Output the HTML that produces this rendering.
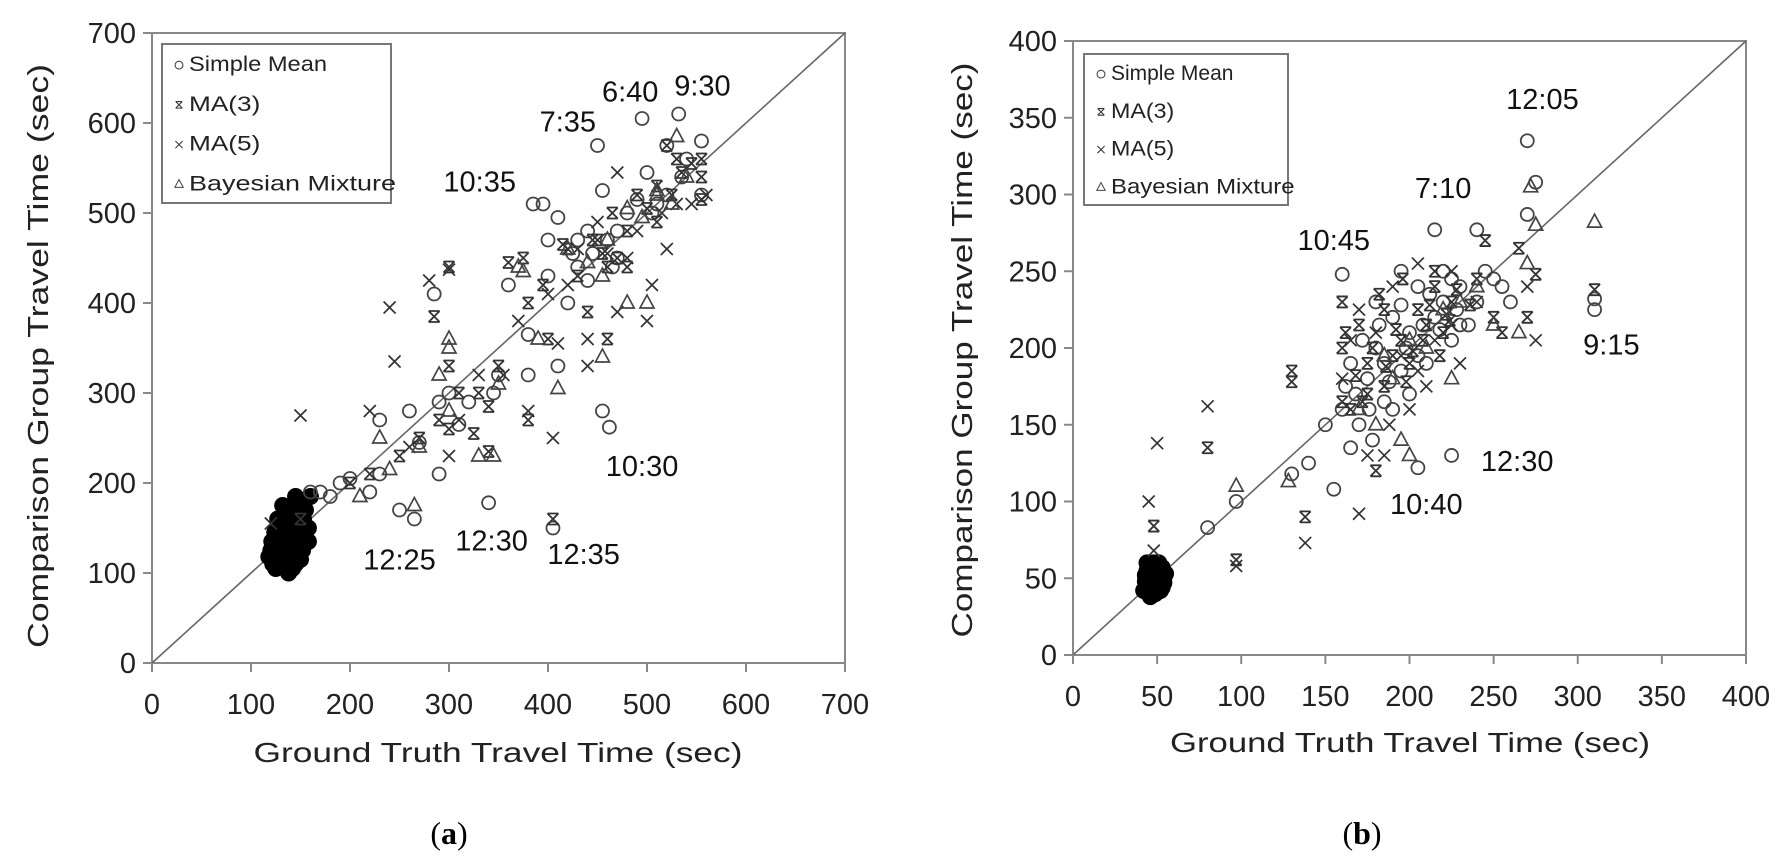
<!DOCTYPE html>
<html><head><meta charset="utf-8">
<style>
html,body{margin:0;padding:0;background:#fff;}
svg{display:block;font-family:"Liberation Sans",sans-serif;}
</style></head>
<body>
<svg id="fig" width="1789" height="867" viewBox="0 0 1789 867" xmlns="http://www.w3.org/2000/svg">
  <g id="chartA"></g>
  <g id="chartB"></g>
  <text x="449" y="844" text-anchor="middle" font-family="Liberation Serif,serif" font-size="32">(<tspan font-weight="bold">a</tspan>)</text>
  <text x="1362" y="844" text-anchor="middle" font-family="Liberation Serif,serif" font-size="32">(<tspan font-weight="bold">b</tspan>)</text>
</svg>
<script>
// ---------- Chart (a) data ----------
const aTicks = [0,100,200,300,400,500,600,700];
const aMean = [[450,575],[495,605],[532,610],[555,580],[385,510],[395,510],[410,495],[400,470],[440,480],[470,450],[455,280],[462,262],[340,178],[405,150],[265,160],[250,170],[290,290],[290,210],[285,410],[220,190],[190,200],[200,205],[170,190],[160,190],[360,420],[400,430],[420,400],[500,545],[520,520],[540,560],[480,500],[350,320],[300,300],[320,290],[230,270],[260,280],[430,440],[460,470],[380,320],[410,330],[510,510],[470,480],[555,520],[380,365],[230,210],[180,185],[455,525],[520,575],[430,470],[445,455],[490,515],[505,500],[465,440],[425,455],[440,425],[535,540],[270,245],[345,300],[310,265]];
const aMA3 = [[285,385],[300,330],[300,260],[340,285],[375,450],[380,270],[400,360],[420,460],[440,390],[450,470],[470,450],[490,520],[510,530],[530,560],[555,540],[360,445],[330,300],[270,250],[250,230],[220,210],[200,200],[460,360],[340,235],[405,160],[300,440],[520,575],[545,555],[555,515],[415,465],[395,420],[460,440],[480,480],[325,255],[290,270],[150,160],[445,470],[465,500],[500,505],[525,520],[535,545],[455,455],[430,430],[480,440],[510,490],[555,560],[380,400],[350,330],[310,300]];
const aMA5 = [[150,275],[240,395],[220,280],[280,425],[300,437],[405,250],[470,390],[500,380],[520,460],[545,510],[560,520],[380,280],[410,355],[430,460],[260,240],[310,270],[355,320],[440,330],[480,450],[505,420],[120,155],[300,230],[245,335],[440,360],[470,545],[530,510],[400,410],[450,490],[490,480],[515,500],[460,455],[420,420],[370,380],[330,320]];
const aBayes = [[530,585],[480,505],[510,520],[455,430],[370,440],[345,230],[330,230],[265,175],[270,240],[300,350],[290,320],[410,305],[480,400],[500,400],[455,340],[390,360],[240,215],[210,185],[420,460],[300,280],[230,250],[540,540],[375,435],[300,360],[510,525],[460,470],[440,445],[495,495],[525,510],[350,310]];
const aCluster = [[118,118],[120,125],[122,110],[125,130],[125,105],[128,140],[128,115],[130,120],[130,150],[132,108],[133,135],[135,125],[135,160],[137,115],[138,145],[140,130],[140,170],[142,120],[143,155],[145,140],[145,110],[147,165],[148,130],[150,150],[150,180],[152,125],[153,160],[155,140],[155,170],[158,150],[160,185],[127,160],[124,145],[138,100],[145,185],[132,175],[150,115],[158,135],[121,135],[142,105]];
const aLabels = ["6:40","9:30","7:35","10:35","10:30","12:25","12:30","12:35"];
const aLabelPos = [[483,636],[556,643],[420,603],[331,536],[495,220],[250,116],[343,137],[436,122]];

// ---------- Chart (b) data ----------
const bTicks = [0,50,100,150,200,250,300,350,400];
const bMean = [[270,335],[275,308],[270,287],[240,277],[215,277],[160,248],[195,250],[205,122],[225,130],[155,108],[80,83],[97,100],[310,225],[310,232],[250,245],[230,240],[180,200],[175,180],[200,210],[210,190],[220,230],[170,150],[185,165],[190,160],[140,125],[130,118],[165,135],[200,170],[215,220],[225,205],[255,240],[260,230],[235,215],[180,230],[190,220],[205,240],[220,250],[168,170],[178,140],[195,185],[172,205],[185,190],[198,200],[208,215],[218,212],[228,225],[162,175],[176,160],[188,178],[205,195],[212,235],[225,245],[245,250],[240,230],[165,190],[182,215],[195,228],[230,215],[160,160],[150,150]];
const bMA3 = [[310,238],[275,248],[270,220],[245,270],[160,230],[160,200],[130,185],[130,178],[138,90],[97,62],[80,135],[48,84],[200,190],[215,240],[225,230],[185,175],[190,195],[175,170],[170,215],[205,225],[220,210],[255,210],[265,265],[250,220],[180,120],[165,160],[195,205],[210,215],[185,225],[175,190],[222,222],[160,165],[168,182],[178,200],[192,212],[202,198],[212,228],[228,238],[236,228],[172,165],[186,188],[198,178],[208,205],[218,195],[224,218],[162,210],[182,235],[196,245],[215,250],[240,245]];
const bMA5 = [[45,100],[50,138],[80,162],[97,58],[138,73],[170,92],[275,205],[270,240],[165,205],[160,180],[190,240],[205,255],[225,250],[240,230],[200,160],[185,130],[175,130],[48,68],[230,190],[210,175],[180,210],[170,225],[195,195],[215,205],[225,215],[188,150],[205,185]];
const bBayes = [[310,282],[275,280],[272,305],[270,255],[97,110],[128,113],[195,140],[200,130],[225,180],[250,215],[265,210],[240,240],[220,225],[180,150],[170,160],[210,200],[190,180],[200,205],[230,230],[185,195]];
const bCluster = [[42,42],[43,48],[44,55],[45,40],[45,45],[46,50],[46,58],[47,43],[47,53],[48,47],[48,60],[49,40],[49,50],[50,45],[50,55],[51,48],[51,60],[52,42],[52,52],[53,57],[54,47],[54,50],[44,60],[55,53],[43,52],[46,38],[50,60],[53,44]];
const bLabels = ["12:05","7:10","10:45","9:15","12:30","10:40"];
const bLabelPos = [[279,363],[220,305],[155,271],[320,203],[264,127],[210,99]];

const NS = "http://www.w3.org/2000/svg";
function el(tag, attrs, parent){ const e=document.createElementNS(NS,tag); for(const k in attrs) e.setAttribute(k,attrs[k]); parent.appendChild(e); return e; }
const MC = "#333";

function marker(g, type, px, py){
  let m;
  if(type==="circle"){ m=el("circle",{cx:px,cy:py,r:6.5,fill:"none",stroke:"#444","stroke-width":1.8},g); }
  else if(type==="ma3"){ const s=5.5; m=el("path",{d:`M${px-s},${py-s}L${px+s},${py+s}M${px+s},${py-s}L${px-s},${py+s}M${px-s},${py-s}H${px+s}M${px-s},${py+s}H${px+s}`,fill:"none",stroke:MC,"stroke-width":1.8},g); }
  else if(type==="ma5"){ const s=6; m=el("path",{d:`M${px-s},${py-s}L${px+s},${py+s}M${px+s},${py-s}L${px-s},${py+s}`,fill:"none",stroke:MC,"stroke-width":1.7},g); }
  else if(type==="tri"){ m=el("path",{d:`M${px},${py-8}L${px+7},${py+5}L${px-7},${py+5}Z`,fill:"none",stroke:"#444","stroke-width":1.7},g); }
  else { m=el("ellipse",{cx:px,cy:py,rx:8,ry:8,fill:"#000",stroke:"#000","stroke-width":1},g); }
  return m;
}

function drawChart(g, c){
  const sx = v => c.x0 + (v - 0)/c.max*(c.x1-c.x0);
  const sy = v => c.y0 - (v - 0)/c.max*(c.y0-c.y1);
  const fr = el("rect",{x:c.x0,y:c.y1,width:c.x1-c.x0,height:c.y0-c.y1,fill:"none",stroke:"#888","stroke-width":2},g);
   
  const dl = el("line",{x1:sx(0),y1:sy(0),x2:sx(c.max),y2:sy(c.max),stroke:"#666","stroke-width":1.6},g);
   
  c.ticks.forEach(t=>{
    const ty = el("line",{x1:c.x0-9,y1:sy(t),x2:c.x0,y2:sy(t),stroke:"#888","stroke-width":2},g);
     
    const tx = el("line",{x1:sx(t),y1:c.y0,x2:sx(t),y2:c.y0+9,stroke:"#888","stroke-width":2},g);
     
    const ly = el("text",{x:c.x0-16,y:sy(t)+10,"text-anchor":"end","font-size":29,fill:"#222"},g);
    ly.textContent=t;
     
    const lx = el("text",{x:sx(t),y:c.y0+51,"text-anchor":"middle","font-size":29,fill:"#222"},g);
    lx.textContent=t;
     
  });
  const xt = el("text",{x:c.xtX,y:c.xtY,"text-anchor":"middle","font-size":28,fill:"#222",textLength:c.xtLen,lengthAdjust:"spacingAndGlyphs"},g);
  xt.textContent="Ground Truth Travel Time (sec)";
   
  const yt = el("text",{x:0,y:0,"text-anchor":"middle","font-size":29,fill:"#222",textLength:c.ytLen,lengthAdjust:"spacingAndGlyphs",transform:`translate(${c.ytX},${c.ytY}) rotate(-90)`},g);
  yt.textContent="Comparison Group Travel Time (sec)";
   
  const series=[["cluster",c.cluster,"dense-cluster"],["circle",c.mean,"simple-mean-series"],["ma3",c.ma3,"ma3-series"],["ma5",c.ma5,"ma5-series"],["tri",c.bayes,"bayesian-mixture-series"]];
  series.forEach(([type,data,name])=>{
    const sg = el("g",{},g);
     
    data.forEach(p=>{
      const m = marker(sg,type,sx(p[0]),sy(p[1]));
       
    });
  });
  c.labels.forEach((t,i)=>{
    const a = el("text",{x:sx(c.labelPos[i][0]),y:sy(c.labelPos[i][1])+11,"text-anchor":"middle","font-size":29,fill:"#111"},g);
    a.textContent=t;
     
  });
  const lg = el("g",{},g);
   
  const lb = el("rect",{x:c.lgX,y:c.lgY,width:c.lgW,height:c.lgH,fill:"#fff",stroke:"#777","stroke-width":2},lg);
   
  const entries=[["circle","Simple Mean",120],["ma3","MA(3)",62],["ma5","MA(5)",62],["tri","Bayesian Mixture",180]];
  entries.forEach((e,i)=>{
    const yy = c.lgY + c.lgH*(0.12+0.25*i);
    const ent = el("g",{},lg);
     
    const mk = el("g",{transform:`translate(${c.lgX+17},${yy+2}) scale(0.6)`},ent);
    marker(mk,e[0],0,0);
    const tx = el("text",{x:c.lgX+27,y:yy+8,"font-size":21,fill:"#222",textLength:e[2]*c.lgScale,lengthAdjust:"spacingAndGlyphs"},ent);
    tx.textContent=e[1];
  });
}

drawChart(document.getElementById("chartA"),{
  x0:152,x1:845,y0:663,y1:33,max:700,ticks:aTicks,
  mean:aMean,ma3:aMA3,ma5:aMA5,bayes:aBayes,cluster:aCluster,labels:aLabels,labelPos:aLabelPos,
  xtX:498,xtY:762,xtLen:489,ytX:48,ytY:356,ytLen:584,
  lgX:162,lgY:44,lgW:229,lgH:159,lgScale:1.15
});
drawChart(document.getElementById("chartB"),{
  x0:1073,x1:1746,y0:655,y1:41,max:400,ticks:bTicks,
  mean:bMean,ma3:bMA3,ma5:bMA5,bayes:bBayes,cluster:bCluster,labels:bLabels,labelPos:bLabelPos,
  xtX:1410,xtY:752,xtLen:480,ytX:972,ytY:350,ytLen:575,
  lgX:1084,lgY:54,lgW:204,lgH:151,lgScale:1.02
});
</script>
</body></html>
